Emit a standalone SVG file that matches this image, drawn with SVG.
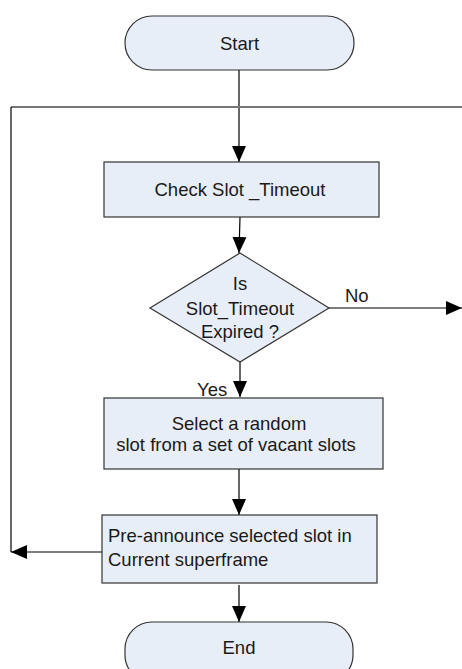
<svg xmlns="http://www.w3.org/2000/svg" width="462" height="669" viewBox="0 0 462 669">
<style>
.n{fill:#E8EEF7;stroke:#333;stroke-width:1.2}
.t{font-family:"Liberation Sans",Arial,sans-serif;font-size:18.5px;fill:#1a1a1a}
.c{fill:none;stroke:#000;stroke-width:1.2}
</style>
<defs>
<marker id="b" viewBox="0 0 16 16" refX="16" refY="8" markerWidth="16" markerHeight="16" markerUnits="userSpaceOnUse" orient="auto"><path d="M0,1L16,8L0,15z" fill="#000"/></marker>
</defs>
<rect width="462" height="669" fill="#fff"/>
<g id="connectors">
<path class="c" d="M239,70V162" marker-end="url(#b)"/>
<path d="M11,107H462" fill="none" stroke="#777" stroke-width="2"/>
<path class="c" d="M11,107V552"/>
<path class="c" d="M240,217L239,253" marker-end="url(#b)"/>
<path class="c" d="M329,308H462" marker-end="url(#b)"/>
<path class="c" d="M240,362V397" marker-end="url(#b)"/>
<path class="c" d="M239,469V515" marker-end="url(#b)"/>
<path class="c" d="M102,552H11" marker-end="url(#b)"/>
<path class="c" d="M239,585V622" marker-end="url(#b)"/>
<text class="t" x="345" y="302">No</text>
<text class="t" x="197" y="396">Yes</text>
</g>
<g id="start">
<rect class="n" x="125" y="16" width="229" height="54" rx="27"/>
<text class="t" x="239.5" y="50" text-anchor="middle">Start</text>
</g>
<g id="check">
<rect class="n" x="104" y="162" width="275" height="55"/>
<text class="t" x="240" y="196" text-anchor="middle">Check Slot _Timeout</text>
</g>
<g id="decision">
<path class="n" d="M240,253L329,308L240,362L150,308Z"/>
<text class="t" x="240" y="290" text-anchor="middle">Is</text>
<text class="t" x="240" y="315" text-anchor="middle">Slot_Timeout</text>
<text class="t" x="240" y="338" text-anchor="middle">Expired ?</text>
</g>
<g id="select">
<rect class="n" x="104" y="398" width="279" height="71"/>
<text class="t" x="239" y="430" text-anchor="middle">Select a random</text>
<text class="t" x="236" y="451" text-anchor="middle">slot from a set of vacant slots</text>
</g>
<g id="announce">
<rect class="n" x="102" y="515" width="275" height="68"/>
<text class="t" x="108" y="542">Pre-announce selected slot in</text>
<text class="t" x="108" y="566">Current superframe</text>
</g>
<g id="end">
<rect class="n" x="125" y="622" width="228" height="60" rx="27"/>
<text class="t" x="239" y="654" text-anchor="middle">End</text>
</g>
</svg>
